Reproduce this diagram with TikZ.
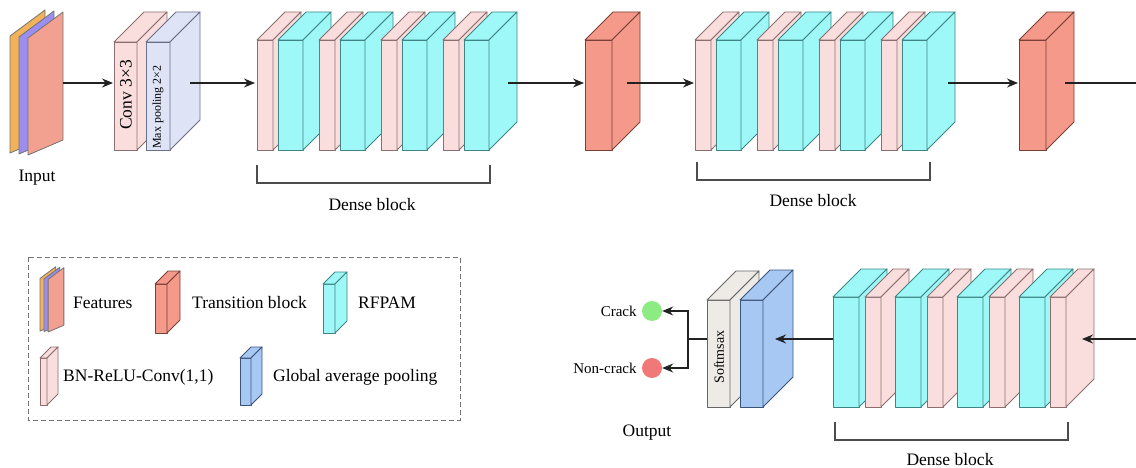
\documentclass[tikz,border=0pt]{standalone}
\usepackage{fontspec}
\setmainfont{Liberation Serif}
\usepackage{tikz}
\usetikzlibrary{arrows.meta,positioning}
\definecolor{pinkC}{RGB}{250,222,222}
\definecolor{pinkE}{RGB}{140,110,110}
\definecolor{cyanC}{RGB}{158,248,248}
\definecolor{cyanE}{RGB}{63,133,133}
\definecolor{transC}{RGB}{245,153,138}
\definecolor{transE}{RGB}{122,64,53}
\definecolor{gapC}{RGB}{168,200,244}
\definecolor{gapE}{RGB}{60,84,120}
\definecolor{smC}{RGB}{238,235,230}
\definecolor{smE}{RGB}{102,102,102}
\definecolor{mpC}{RGB}{222,228,245}
\definecolor{mpE}{RGB}{106,112,136}
\definecolor{orangeC}{RGB}{242,178,90}
\definecolor{purpleC}{RGB}{154,142,240}
\definecolor{redC}{RGB}{242,160,144}
\definecolor{crackC}{RGB}{140,235,130}
\definecolor{noncrackC}{RGB}{240,120,120}
\definecolor{lineC}{RGB}{34,34,34}
\tikzset{
  bn/.style={fill=pinkC, draw=pinkE, line width=0.9pt, line join=round},
  rfpam/.style={fill=cyanC, draw=cyanE, line width=0.9pt, line join=round},
  trans/.style={fill=transC, draw=transE, line width=0.9pt, line join=round},
  gap/.style={fill=gapC, draw=gapE, line width=0.9pt, line join=round},
  soft/.style={fill=smC, draw=smE, line width=0.9pt, line join=round},
  maxpool/.style={fill=mpC, draw=mpE, line width=0.9pt, line join=round},
  sheet/.style={draw=black!55, line width=0.8pt, line join=round},
  flow/.style={draw=lineC, line width=1.4pt, -{Stealth[length=11pt,width=9pt]}},
  plain/.style={draw=lineC, line width=1.4pt},
  brace/.style={draw=black!70, line width=1.2pt},
  lbl/.style={font=\fontsize{17.5}{21}\selectfont, inner sep=1pt},
}
% front face at (x,y), width : height : depth
\def\slab[#1](#2,#3)(#4:#5:#6){%
  \draw[#1] (#2,#3) rectangle ++(#4,#5);
  \draw[#1] (#2,#3) -- ++(#6,-#6) -- ++(#4,0) -- ++(-#6,#6) -- cycle;
  \draw[#1] (#2+#4,#3) -- ++(#6,-#6) -- ++(0,#5) -- ++(-#6,#6) -- cycle;
}
% thin feature map, bottom left corner at (x,y)
\def\fmap[#1](#2,#3){\draw[#1] (#2,#3) -- ++(0,-117) -- ++(35,-26) -- ++(0,128) -- cycle;}

\begin{document}
\begin{tikzpicture}[x=1pt,y=-1pt]
	\useasboundingbox (0,0) rectangle (1136,468);

	%%%%% TOP ROW %%%%%

	% input
	\fmap[sheet, fill=orangeC](10,153);
	\fmap[sheet, fill=purpleC](19,154);
	\fmap[sheet, fill=redC](28,155);
	\node[lbl] (input) at (37,178) {Input};

	% conv + max pooling
	\slab[bn](114,42)(23:108:30);
	\slab[maxpool](146,42)(24:108:30);
	\node[lbl, rotate=90] (conv) at (126,95) {Conv 3×3};
	\node[lbl, rotate=90, font=\fontsize{12}{14}\selectfont] (pool) at (158,107) {Max pooling 2×2};

	% dense block 1
	\slab[bn](257,40)(16:110:28);
	\slab[rfpam](278,40)(25:110:28);
	\slab[bn](319,40)(16:110:28);
	\slab[rfpam](340,40)(25:110:28);
	\slab[bn](381,40)(16:110:28);
	\slab[rfpam](402,40)(25:110:28);
	\slab[bn](443,40)(16:110:28);
	\slab[rfpam](464,40)(25:110:28);
	\draw[brace] (257,165) -- (257,183) -- (490,183) -- (490,165);
	\node[lbl] (dense1) at (372,205) {Dense block};

	% transition 1
	\slab[trans](585,40)(27:110:28);

	% dense block 2
	\slab[bn](695,40)(16:110:28);
	\slab[rfpam](716,40)(25:110:28);
	\slab[bn](757,40)(16:110:28);
	\slab[rfpam](778,40)(25:110:28);
	\slab[bn](819,40)(16:110:28);
	\slab[rfpam](840,40)(25:110:28);
	\slab[bn](881,40)(16:110:28);
	\slab[rfpam](902,40)(25:110:28);
	\draw[brace] (697,162) -- (697,180) -- (930,180) -- (930,162);
	\node[lbl] (dense2) at (813,201) {Dense block};

	% transition 2
	\slab[trans](1019,40)(27:110:28);

	\coordinate (inR) at (63,83);
	\coordinate (convL) at (113,83);
	\coordinate (poolR) at (190,83);
	\coordinate (dbaL) at (255,83);
	\coordinate (dbaR) at (508,83);
	\coordinate (traL) at (584,83);
	\coordinate (traR) at (627,83);
	\coordinate (dbbL) at (694,83);
	\coordinate (dbbR) at (948,83);
	\coordinate (trbL) at (1018,83);
	\coordinate (trbR) at (1065,83);
	\coordinate (edgeA) at (1136,83);

	\draw[flow] (inR) -- (convL);
	\draw[flow] (poolR) -- (dbaL);
	\draw[flow] (dbaR) -- (traL);
	\draw[flow] (traR) -- (dbbL);
	\draw[flow] (dbbR) -- (trbL);
	\draw[plain] (trbR) -- (edgeA);

	%%%%% BOTTOM ROW %%%%%

	% softmax + global average pooling
	\slab[soft](707,300)(23:107:29);
	\slab[gap](740,300)(23:107:30);
	\node[lbl, rotate=90, font=\fontsize{14}{17}\selectfont] (softmax) at (719,357) {Softmsax};

	% dense block 3
	\slab[rfpam](833,297)(26:110:28);
	\slab[bn](865,297)(16:110:28);
	\slab[rfpam](895,297)(26:110:28);
	\slab[bn](927,297)(16:110:28);
	\slab[rfpam](957,297)(26:110:28);
	\slab[bn](989,297)(16:110:28);
	\slab[rfpam](1019,297)(26:110:28);
	\slab[bn](1050,297)(16:110:28);
	\draw[brace] (835,422) -- (835,440) -- (1068,440) -- (1068,422);
	\node[lbl] (dense3) at (950,460) {Dense block};

	% outputs
	\node[circle, fill=crackC, minimum size=20pt, inner sep=0pt] (crack) at (652,311) {};
	\node[circle, fill=noncrackC, minimum size=20pt, inner sep=0pt] (noncrack) at (652,368) {};
	\node[lbl, left=4pt of crack, font=\fontsize{15}{18}\selectfont] (cracklbl) {Crack};
	\node[lbl, left=4pt of noncrack, font=\fontsize{15}{18}\selectfont] (noncracklbl) {Non-crack};
	\node[lbl] (output) at (647,433) {Output};

	\coordinate (edgeB) at (1136,339);
	\coordinate (dbcR) at (1082,339);
	\coordinate (dbcL) at (833,339);
	\coordinate (gapR) at (775,339);
	\coordinate (softL) at (707,339);
	\coordinate (fork) at (688,339);

	\draw[flow] (edgeB) -- (dbcR);
	\draw[flow] (dbcL) -- (gapR);
	\draw[plain] (softL) -- (fork);
	\draw[flow] (fork) |- (crack);
	\draw[flow] (fork) |- (noncrack);

	%%%%% LEGEND %%%%%

	\draw[draw=black!55, line width=1pt, dash pattern=on 5pt off 3pt] (28,257) rectangle (460,420);

	\begin{scope}[shift={(35.5,262.25)}, scale=0.45]
		\fmap[sheet, fill=orangeC](10,153);
		\fmap[sheet, fill=purpleC](19,154);
		\fmap[sheet, fill=redC](28,155);
	\end{scope}
	\node[lbl, anchor=west] (features) at (72,303) {Features};

	\slab[trans](155,284)(12:49:13);
	\node[lbl, anchor=west] (translbl) at (191,303) {Transition block};

	\slab[rfpam](323,284)(12:49:12);
	\node[lbl, anchor=west] (rfpamlbl) at (357,303) {RFPAM};

	\slab[bn](40,358)(7:47:11);
	\node[lbl, anchor=west] (bnlbl) at (62,377) {BN-ReLU-Conv(1,1)};

	\slab[gap](240,358)(11:47:11);
	\node[lbl, anchor=west] (gaplbl) at (272,377) {Global average pooling};

\end{tikzpicture}
\end{document}
